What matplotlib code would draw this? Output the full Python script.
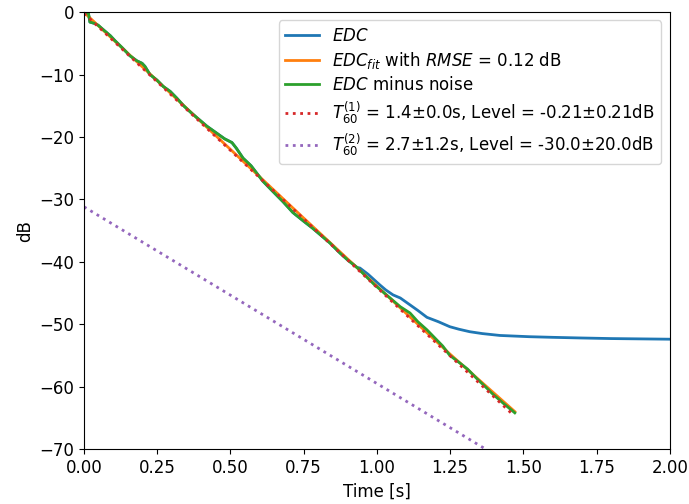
import matplotlib
matplotlib.use("Agg")
import matplotlib.pyplot as plt

plt.rcParams['font.size'] = 12

# EDC minus noise (green)
t_green = [0.0, 0.015, 0.02, 0.035, 0.048, 0.07, 0.09, 0.106, 0.13, 0.157, 0.18, 0.198,
           0.208, 0.225, 0.249, 0.27, 0.294, 0.317, 0.34, 0.37, 0.40, 0.42, 0.45, 0.48,
           0.505, 0.52, 0.543, 0.57, 0.611, 0.64, 0.68, 0.713, 0.75, 0.78, 0.805, 0.84,
           0.874, 0.90, 0.932, 0.96, 0.99, 1.02, 1.05, 1.08, 1.113, 1.14, 1.171, 1.2,
           1.225, 1.249, 1.283, 1.31, 1.341, 1.37, 1.396, 1.43, 1.471]
db_green = [0.0, -0.2, -1.6, -1.8, -2.1, -3.0, -3.8, -4.6, -5.7, -7.0, -7.8, -8.2,
            -8.7, -10.0, -10.9, -11.9, -12.7, -13.8, -15.0, -16.3, -17.5, -18.3, -19.3, -20.3,
            -20.9, -21.8, -23.4, -24.6, -27.1, -28.5, -30.4, -32.1, -33.5, -34.6, -35.6, -37.0,
            -38.6, -39.7, -40.9, -42.2, -43.6, -44.8, -46.0, -47.2, -48.2, -49.6, -50.9, -52.3,
            -53.5, -55.0, -56.2, -57.2, -58.7, -60.0, -61.2, -62.6, -64.2]

# EDC (blue): follows the green curve until ~0.93 s, then levels off
t_edc_tail = [0.942, 0.97, 1.01, 1.03, 1.055, 1.08, 1.113, 1.14, 1.171, 1.21, 1.249,
              1.28, 1.317, 1.36, 1.42, 1.52, 1.6, 1.693, 1.8, 1.9, 2.0]
db_edc_tail = [-41.0, -42.0, -43.7, -44.5, -45.3, -45.8, -46.9, -47.8, -48.9, -49.6, -50.4,
               -50.8, -51.2, -51.5, -51.8, -52.0, -52.1, -52.2, -52.3, -52.35, -52.4]

# EDC fit (orange)
t_fit = [0.0, 0.25, 0.5, 0.75, 1.0, 1.25, 1.471]
db_fit = [-0.05, -11.0, -22.0, -33.0, -43.9, -54.8, -64.0]

# decay components (dotted)
t_comp1 = [0.0, 1.465]
db_comp1 = [-0.21, -64.5]
t_comp2 = [0.0, 2.0]
db_comp2 = [-31.2, -87.8]

n_shared = sum(1 for t in t_green if t <= 0.932)
t_edc = t_green[:n_shared] + t_edc_tail
db_edc = db_green[:n_shared] + db_edc_tail

fig = plt.figure(figsize=(6.89, 5.04), dpi=100)
ax = fig.add_axes([0.122, 0.109, 0.850, 0.867])

ax.plot(t_edc, db_edc, color='C0', lw=2, label=r'$EDC$')
ax.plot(t_fit, db_fit, color='C1', lw=2, label=r'$EDC_{fit}$ with $RMSE$ = 0.12 dB')
ax.plot(t_green, db_green, color='C2', lw=2, label=r'$EDC$ minus noise')
ax.plot(t_comp1, db_comp1, color='C3', lw=2, ls=':',
        label=r'$T_{60}^{(1)}$ = 1.4±0.0s, Level = -0.21±0.21dB')
ax.plot(t_comp2, db_comp2, color='C4', lw=2, ls=':',
        label=r'$T_{60}^{(2)}$ = 2.7±1.2s, Level = -30.0±20.0dB')

ax.set_xlim(0, 2)
ax.set_ylim(-70, 0)
ax.set_xlabel('Time [s]')
ax.set_ylabel('dB')
ax.legend(loc='upper right', labelspacing=0.3)

fig.savefig('out.png', dpi=100)
